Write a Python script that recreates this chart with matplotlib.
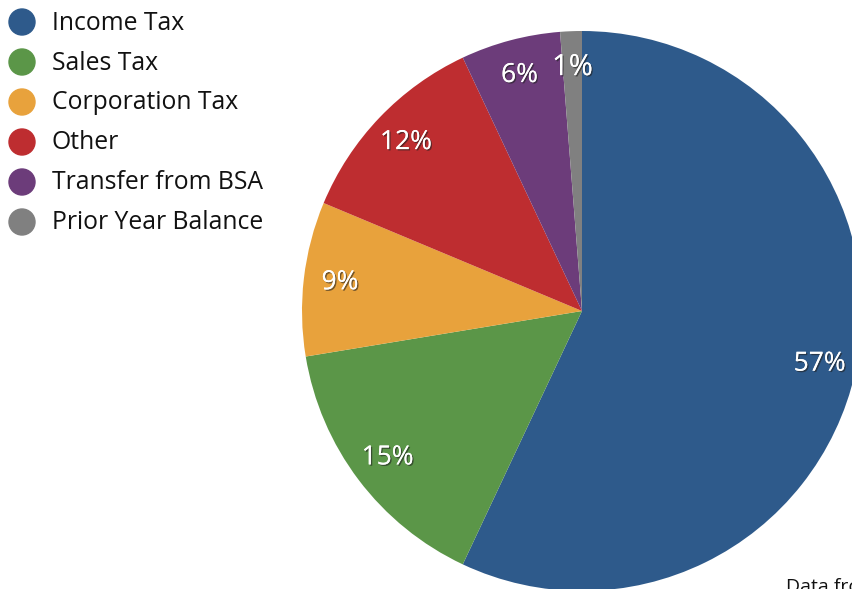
import matplotlib
matplotlib.use('Agg')
import matplotlib.pyplot as plt
import matplotlib.patheffects as pe
from matplotlib.patches import Circle

plt.rcParams['font.family'] = ['Open Sans', 'DejaVu Sans']

labels = ['Income Tax', 'Sales Tax', 'Corporation Tax', 'Other',
          'Transfer from BSA', 'Prior Year Balance']
values = [57.0, 15.4, 8.9, 11.7, 5.75, 1.25]
colors = ['#2E5A8B', '#5B9648', '#E8A23C', '#BE2D30', '#6C3C7A', '#808080']

fig = plt.figure(figsize=(8.53, 5.89), dpi=100)
ax = fig.add_axes([0, 0, 1, 1])

wedges, texts, autotexts = ax.pie(values, colors=colors, startangle=90,
                                  counterclock=False, radius=280,
                                  center=(582, 278), autopct='%1.0f%%',
                                  pctdistance=0.87, frame=True,
                                  wedgeprops={'linewidth': 0})
ax.set_xlim(0, 853)
ax.set_ylim(0, 589)
ax.set_aspect('equal')
ax.axis('off')
for t in autotexts:
    t.set_color('white')
    t.set_fontsize(19)
    t.set_path_effects([pe.withSimplePatchShadow(offset=(1, -1), shadow_rgbFace='#222222', alpha=0.6),
                        pe.Normal()])
autotexts[-1].set_fontsize(21)

# legend
for i, (lab, col) in enumerate(zip(labels, colors)):
    y = 589 - 22 - 40 * i
    ax.add_patch(Circle((22, y), 13, color=col))
    ax.text(52, y - 1, lab, fontsize=17.8, va='center', ha='left', color='#111111')

ax.text(786, 11, 'Data from', fontsize=14, va='top', ha='left', color='#111111')

fig.savefig('out.png', dpi=100)
